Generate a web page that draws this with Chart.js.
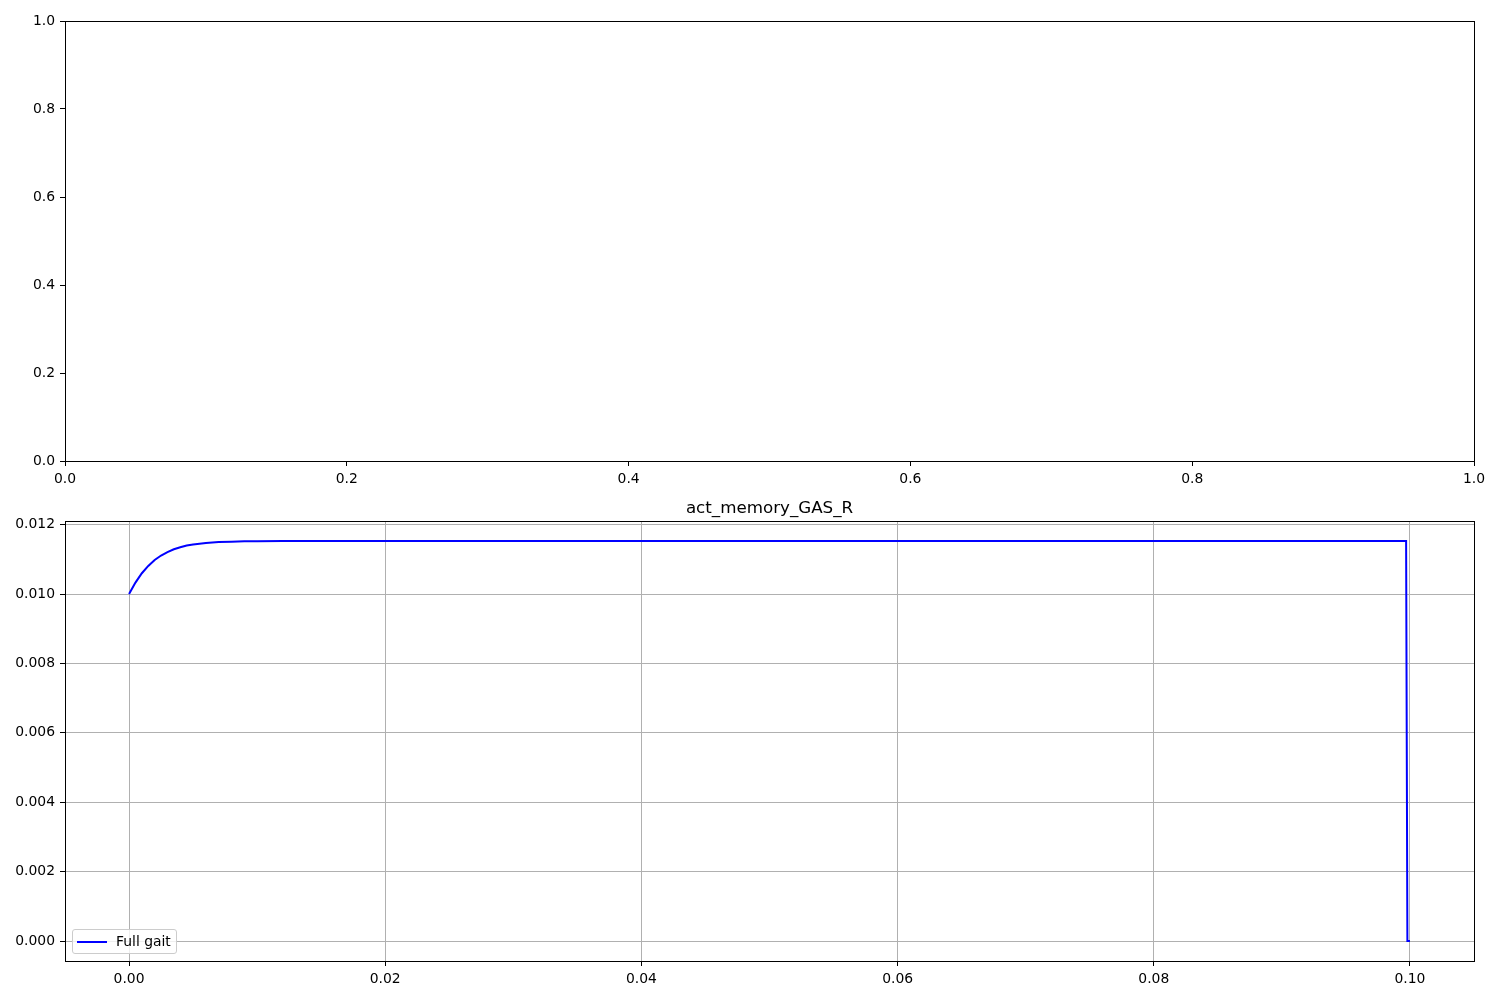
<!DOCTYPE html>
<html>
<head>
<meta charset="utf-8">
<script src="https://cdn.jsdelivr.net/npm/chart.js@4/dist/chart.umd.min.js"></script>
<style>
  html, body { margin: 0; padding: 0; background: #fff; }
  #wrap { position: relative; width: 1500px; height: 1000px; overflow: hidden; }
  #topCanvas { position: absolute; left: 0; top: 0; }
  #botCanvas { position: absolute; left: 0; top: 480px; }
  #legend {
    position: absolute; left: 72px; top: 929px; width: 103px; height: 23px;
    border: 1px solid #cccccc; border-radius: 3px; background: rgba(255,255,255,0.8);
    font-family: "DejaVu Sans", sans-serif; font-size: 13.9px; color: #000;
  }
  #legend .swatch { position: absolute; left: 4px; top: 11px; width: 30px; height: 2px; background: #0000ff; }
  #legend .txt { position: absolute; left: 43px; top: 3px; line-height: 16px; white-space: nowrap; }
</style>
</head>
<body>
<div id="wrap">
  <canvas id="topCanvas" width="1500" height="500"></canvas>
  <canvas id="botCanvas" width="1500" height="520"></canvas>
  <div id="legend"><span class="swatch"></span><span class="txt" id="legendText"></span></div>
</div>
<script>
// ---- data ----
const chartTitle = 'act_memory_GAS_R';
const seriesLabel = 'Full gait';

const timeValues = [0, 0.0005, 0.001, 0.0015, 0.002, 0.0025, 0.003, 0.0035, 0.004, 0.0045,
  0.005, 0.006, 0.007, 0.008, 0.009, 0.010, 0.012, 0.015, 0.02, 0.04, 0.06, 0.08, 0.0997, 0.0998, 0.1];
const activationValues = [0.01000, 0.01033, 0.01060, 0.01081, 0.01098, 0.01111, 0.01121, 0.01129, 0.01135, 0.01140,
  0.01143, 0.01147, 0.01150, 0.01151, 0.01152, 0.011525, 0.011527, 0.011528, 0.011528, 0.011528, 0.011528, 0.011528, 0.011528, 0, 0];

const xTickValues = [0, 0.02, 0.04, 0.06, 0.08, 0.10];
const xTickLabels = ['0.00', '0.02', '0.04', '0.06', '0.08', '0.10'];
const yTickValues = [0, 0.002, 0.004, 0.006, 0.008, 0.010, 0.012];
const yTickLabels = ['0.000', '0.002', '0.004', '0.006', '0.008', '0.010', '0.012'];
const emptyTickValues = [0, 0.2, 0.4, 0.6, 0.8, 1.0];
const emptyTickLabels = ['0.0', '0.2', '0.4', '0.6', '0.8', '1.0'];

// ---- styling helpers ----
const FONT = { family: '"DejaVu Sans", sans-serif', size: 13.9 };
document.getElementById('legendText').textContent = seriesLabel;

const framePlugin = {
  id: 'frame',
  afterDatasetsDraw(chart) {
    const a = chart.chartArea, ctx = chart.ctx;
    ctx.save();
    ctx.strokeStyle = '#000';
    ctx.lineWidth = 1;
    ctx.strokeRect(Math.round(a.left) + 0.5, Math.round(a.top) + 0.5,
      Math.round(a.right - a.left), Math.round(a.bottom - a.top));
    ctx.restore();
  }
};

function axis(pos, min, max, tickVals, tickLabels, showGrid) {
  return {
    type: 'linear',
    position: pos,
    min: min,
    max: max,
    afterBuildTicks: (s) => { s.ticks = tickVals.map(v => ({ value: v })); },
    afterFit: (s) => { if (pos === 'left') s.width = 65; else s.height = 39; },
    ticks: {
      autoSkip: false, maxRotation: 0, minRotation: 0,
      padding: 5, color: '#000', font: FONT,
      callback: (v, i) => tickLabels[i]
    },
    grid: {
      display: true,
      drawOnChartArea: showGrid,
      drawTicks: true,
      tickLength: 5,
      tickColor: '#000',
      tickWidth: 1,
      color: '#b0b0b0',
      lineWidth: 1
    },
    border: { display: true, color: '#000', width: 1 }
  };
}

// ---- top (empty) axes ----
new Chart(document.getElementById('topCanvas'), {
  type: 'scatter',
  data: { datasets: [] },
  options: {
    responsive: false,
    animation: false,
    layout: { padding: { top: 21, right: 26, left: 0, bottom: 0 } },
    plugins: { legend: { display: false }, title: { display: false }, tooltip: { enabled: false } },
    scales: {
      x: axis('bottom', 0, 1, emptyTickValues, emptyTickLabels, false),
      y: axis('left', 0, 1, emptyTickValues, emptyTickLabels, false)
    }
  },
  plugins: [framePlugin]
});

// ---- bottom axes with series ----
new Chart(document.getElementById('botCanvas'), {
  type: 'scatter',
  data: {
    datasets: [{
      label: seriesLabel,
      data: timeValues.map((t, i) => ({ x: t, y: activationValues[i] })),
      showLine: true,
      borderColor: '#0000ff',
      backgroundColor: '#0000ff',
      borderWidth: 2,
      pointRadius: 0,
      tension: 0,
      fill: false
    }]
  },
  options: {
    responsive: false,
    animation: false,
    layout: { padding: { top: 0, right: 26, left: 0, bottom: 0 } },
    plugins: {
      legend: { display: false },
      tooltip: { enabled: false },
      title: {
        display: true,
        fullSize: false,
        text: chartTitle,
        color: '#000',
        font: { family: '"DejaVu Sans", sans-serif', size: 16.7, weight: 'normal' },
        padding: { top: 19, bottom: 2 }
      }
    },
    scales: {
      x: axis('bottom', -0.005, 0.105, xTickValues, xTickLabels, true),
      y: axis('left', -0.000576, 0.012104, yTickValues, yTickLabels, true)
    }
  },
  plugins: [framePlugin]
});
</script>
</body>
</html>
